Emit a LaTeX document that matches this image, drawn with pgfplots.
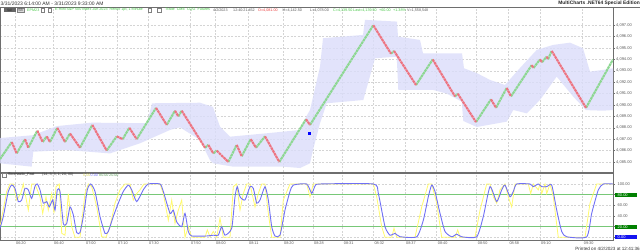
\documentclass[border=0pt]{standalone}
\usepackage{pgfplots}
\pgfplotsset{compat=1.18}
\usepackage{fontspec}
\setmainfont{Liberation Sans}
\newcommand{\fs}[1]{\fontsize{#1bp}{#1bp}\selectfont}
\definecolor{brickgreen}{RGB}{140,215,145}
\definecolor{brickred}{RGB}{238,115,128}
\definecolor{band}{RGB}{219,221,250}
\definecolor{gridc}{RGB}{212,212,212}
\definecolor{stochY}{RGB}{255,250,110}
\definecolor{stochB}{RGB}{112,112,245}
\definecolor{lvl}{RGB}{120,200,120}
\definecolor{hdrgreen}{RGB}{70,200,70}
\definecolor{hdrred}{RGB}{235,60,60}
\definecolor{boxgreen}{RGB}{0,128,0}
\definecolor{boxblue}{RGB}{20,20,240}
\definecolor{axisc}{RGB}{110,110,110}
\definecolor{txtgray}{RGB}{90,90,90}
\newcommand{\lbox}[2]{{\setlength{\fboxsep}{0.7bp}\colorbox{#1}{\makebox[21bp][l]{\textcolor{white}{\hspace{2bp}#2}}}}}
\newcommand{\plbl}[1]{\makebox[22bp][l]{\hspace{2.7bp}#1}}
\tikzset{brick/.style={line width=2.1bp, dash pattern=on 2.6bp off 0.6bp}}

\begin{document}
\begin{tikzpicture}
\useasboundingbox (0bp,0bp) rectangle (640bp,252bp);
\fill[white] (0bp,0bp) rectangle (640bp,252bp);

% ---------------- upper panel ----------------
\begin{axis}[
  at={(0bp,80bp)}, anchor=south west,
  scale only axis, width=613bp, height=165bp,
  xmin=0, xmax=613, ymin=4084.12, ymax=4098.6,
  axis line style={draw=axisc, line width=0.5bp},
  xtick={15,53,85,117,148,190,215,248,283,313,342.7,373.3,405,436.7,476.7,508.3,540,582.7},
  xticklabels={},
  ytick={4085,4086,4087,4088,4089,4090,4091,4092,4093,4094,4095,4096,4097},
  ytick pos=right, yticklabel pos=right, xtick pos=bottom,
  tick align=outside, major tick length=2bp,
  xtick style={draw=none},
  ytick style={draw=axisc, line width=0.4bp},
  grid=major,
  major grid style={draw=gridc, line width=0.5bp, dash pattern=on 2bp off 1.5bp},
  y tick label style={font=\fs{4}, text=txtgray, inner sep=1bp,
     /pgf/number format/fixed, /pgf/number format/fixed zerofill,
     /pgf/number format/precision=2, /pgf/number format/1000 sep={,},
     /pgf/number format/assume math mode=true},
  unbounded coords=jump,
]
\addplot[draw=none, fill=band, fill opacity=0.8] coordinates {
(0,4087.10) (33,4087.35) (57,4088.15) (92,4088.45) (147,4088.40) (152,4090.15)
(200,4090.20) (213,4089.83) (220,4088.10) (230,4087.22) (267,4087.52) (300,4087.81)
(306,4088.95) (310,4089.56) (320,4093.37) (323,4095.86) (363,4096.15) (365,4097.47)
(397,4097.32) (398,4096.00) (420,4095.71) (423,4094.54) (462,4094.54) (464,4093.22)
(477,4092.79) (490,4092.20) (505,4091.76) (520,4093.25) (536.7,4094.83) (553,4095.27)
(570,4095.47) (583,4094.98) (590,4092.93) (603,4093.08) (613,4093.22)
(613,4089.56) (603,4089.50) (586,4089.55) (573.3,4090.73) (556.7,4092.49) (540,4090.44)
(526.7,4089.27) (513.3,4089.56) (506.7,4088.54) (476.7,4088.07) (463.3,4088.60) (461.7,4090.30)
(446.7,4091.0) (433.3,4091.32) (398.3,4091.32) (396.7,4094.24) (375,4094.10) (363.3,4090.44)
(326.7,4090.15) (320,4088.40) (313,4086.05) (310,4084.88) (300,4084.47) (283,4084.59)
(233,4084.59) (213.3,4084.88) (210,4085.17) (200,4086.93) (180,4088.04) (170,4087.81)
(140,4086.64) (110,4085.75) (66.7,4086.05) (33.3,4085.90) (31.7,4084.59) (0,4084.88)
} -- cycle;
% up legs (green bricks)
\addplot[brickgreen, brick] coordinates {
(0,4085.25) (11.7,4086.75) (11.7,nan)
(16.7,4085.75) (25,4087.0) (25,nan)
(28.3,4086.25) (37.3,4087.75) (37.3,nan)
(42.7,4086.75) (46.7,4087.25) (46.7,nan)
(50,4086.75) (57.3,4088.0) (57.3,nan)
(65,4086.75) (70,4087.5) (70,nan)
(80,4086.25) (92.3,4088.25) (92.3,nan)
(106.7,4086.0) (116.7,4087.25) (116.7,nan)
(122.7,4087.0) (129.3,4088.0) (129.3,nan)
(136.7,4087.0) (156,4089.75) (156,nan)
(166.7,4088.25) (175,4089.5) (175,nan)
(178.3,4089.0) (181.7,4089.5) (181.7,nan)
(205,4086.25) (208.3,4086.5) (208.3,nan)
(213.3,4085.75) (216.7,4086.0) (216.7,nan)
(228.3,4085.0) (236.7,4086.5) (236.7,nan)
(241.7,4085.5) (250.7,4087.0) (250.7,nan)
(256,4086.25) (265,4087.25) (265,nan)
(279.3,4085.0) (306,4088.75) (306,nan)
(310,4088.25) (373.3,4097.0) (373.3,nan)
(391,4094.5) (394,4094.75) (394,nan)
(416,4091.75) (432.7,4094.0) (432.7,nan)
(455,4090.75) (457.7,4091.0) (457.7,nan)
(476,4088.5) (491,4090.5) (491,nan)
(496,4089.75) (506.7,4091.5) (506.7,nan)
(511,4090.75) (531.7,4093.5) (531.7,nan)
(533.5,4093.25) (540,4094.0) (540,nan)
(542,4093.75) (546.7,4094.25) (546.7,nan)
(548,4094.0) (551.7,4094.75) (551.7,nan)
(586,4089.75) (613,4094.0)
};
% down legs (red bricks)
\addplot[brickred, brick] coordinates {
(11.7,4086.75) (16.7,4085.75) (16.7,nan)
(25,4087.0) (28.3,4086.25) (28.3,nan)
(37.3,4087.75) (42.7,4086.75) (42.7,nan)
(46.7,4087.25) (50,4086.75) (50,nan)
(57.3,4088.0) (65,4086.75) (65,nan)
(70,4087.5) (80,4086.25) (80,nan)
(92.3,4088.25) (106.7,4086.0) (106.7,nan)
(116.7,4087.25) (122.7,4087.0) (122.7,nan)
(129.3,4088.0) (136.7,4087.0) (136.7,nan)
(156,4089.75) (166.7,4088.25) (166.7,nan)
(175,4089.5) (178.3,4089.0) (178.3,nan)
(181.7,4089.5) (205,4086.25) (205,nan)
(208.3,4086.5) (213.3,4085.75) (213.3,nan)
(216.7,4086.0) (228.3,4085.0) (228.3,nan)
(236.7,4086.5) (241.7,4085.5) (241.7,nan)
(250.7,4087.0) (256,4086.25) (256,nan)
(265,4087.25) (279.3,4085.0) (279.3,nan)
(306,4088.75) (310,4088.25) (310,nan)
(373.3,4097.0) (391,4094.5) (391,nan)
(394,4094.75) (416,4091.75) (416,nan)
(432.7,4094.0) (455,4090.75) (455,nan)
(457.7,4091.0) (476,4088.5) (476,nan)
(491,4090.5) (496,4089.75) (496,nan)
(506.7,4091.5) (511,4090.75) (511,nan)
(531.7,4093.5) (533.5,4093.25) (533.5,nan)
(540,4094.0) (542,4093.75) (542,nan)
(546.7,4094.25) (548,4094.0) (548,nan)
(551.7,4094.75) (586,4089.75)
};
\addplot[only marks, mark=square*, mark size=1bp, color=blue] coordinates {(309.3,4087.5)};
\end{axis}

% ---------------- lower panel ----------------
\begin{axis}[
  at={(0bp,12bp)}, anchor=south west,
  scale only axis, width=613bp, height=67bp,
  xmin=0, xmax=613, ymin=-5, ymax=120.6,
  axis line style={draw=axisc, line width=0.5bp},
  xtick={15,53,85,117,148,190,215,248,283,313,342.7,373.3,405,436.7,476.7,508.3,540,582.7},
  xticklabels={06:20,06:40,07:00,07:10,07:30,07:50,08:00,08:11,08:20,08:28,08:31,08:32,08:37,08:40,08:50,08:58,09:10,09:30},
  x tick label style={font=\fs{3.8}, text=txtgray, anchor=north west, inner sep=0.5bp, xshift=0.5bp},
  ytick={0,20,40,60,80,100},
  yticklabels={{\lbox{boxblue}{0.00}},{\lbox{boxgreen}{20.00}},{\plbl{40.00}},{\plbl{60.00}},{\lbox{boxgreen}{80.00}},{\plbl{100.00}}},
  y tick label style={font=\fs{4}, text=txtgray, inner sep=0.3bp},
  ytick pos=right, yticklabel pos=right, xtick pos=bottom,
  tick align=outside, major tick length=1.5bp,
  xtick style={draw=none},
  ytick style={draw=axisc, line width=0.4bp},
  grid=major,
  major grid style={draw=gridc, line width=0.5bp, dash pattern=on 2bp off 1.5bp},
]
\addplot[lvl, line width=0.8bp] coordinates {(0,80) (613,80)};
\addplot[lvl, line width=0.8bp] coordinates {(0,20) (613,20)};
% fast %K (yellow)
\addplot[stochY, line width=0.8bp] coordinates {
(0,20) (6.7,86) (10,100) (13.3,100) (16.7,70) (20.7,82) (23.3,100) (28.3,51) (31.7,100)
(35,100) (40,76) (42.7,45) (46,76) (48.3,51) (51.7,82) (54,45) (56,95) (59.3,100)
(61.7,7.5) (65,4) (68.3,82) (71.7,20) (75,0) (80,0) (85,82) (88.3,100) (91.7,95)
(96.7,57) (101.7,1) (106,0) (110,20) (115,64) (120,89) (125,100) (130,100) (133.3,70)
(136.7,82) (140,89) (144,100) (160,100) (163.3,82) (168.3,32) (171.7,70) (175,26)
(178.3,51) (181.7,70) (185,0) (188.3,20) (191.7,0) (205,0) (207.3,14) (210,1) (213.3,11)
(216.7,0) (220,36) (223.3,0) (230,0) (233.3,95) (236.7,100) (240,51) (243.3,82)
(246.7,100) (250,100) (255,57) (258.3,82) (261.7,100) (265,100) (268.3,45) (271.7,0)
(280,0) (283.3,70) (290,100) (306.7,100) (310,76) (313.3,100) (320,100)
(373.3,100) (376.7,76) (381.7,20) (385,0) (391.7,0) (394,17) (396.7,0) (415,0)
(421.7,57) (428.3,100) (431.7,100) (436.7,64) (441.7,0) (455,0) (457.7,14) (460,0)
(475,0) (480,51) (486.7,100) (490,100) (493.3,76) (496.7,64) (500,89) (505,100)
(508.3,76) (511.7,57) (515,100) (528.3,100) (530.7,82) (533.3,100) (538.3,89) (540,100)
(541.7,82) (545,100) (546.7,82) (550,100) (553.3,76) (558.3,0) (585,0) (590,64)
(596.7,100) (613,100)
};
% %D (blue)
\addplot[stochB, line width=0.9bp, smooth, tension=0.35] coordinates {
(0,17) (3.3,39) (8.3,86) (11.7,98) (15,92) (18.3,67) (21.7,70) (25,92) (28.3,89)
(31.7,73) (35,96) (37.3,100) (40,89) (43.3,64) (46.7,67) (49.3,57) (52.7,70) (55,51)
(57.3,89) (60,86) (63.3,26) (66.7,26) (70,57) (73.3,42) (76.7,9) (80,9) (83.3,39)
(87.3,89) (90.7,100) (95,86) (100,39) (105,7.5) (108.3,11) (113.3,39) (118.3,64)
(123.3,86) (128.3,98) (131.7,89) (136.7,67) (143.3,89) (148.3,100) (160,100) (163.3,86)
(170,45) (173.3,51) (176.7,29) (181.7,20) (185,45) (188.3,11) (191.7,2.5) (206.7,2.5)
(213.3,4) (218.3,4) (221.7,20) (225,4) (231.7,17) (235,76) (237.3,95) (240,76) (245,70)
(250,95) (253.3,92) (256.7,64) (260,70) (265,95) (268.3,70) (271.7,20) (275,2.5) (280,4)
(285,51) (290,86) (293.3,98) (306.7,100) (311.7,82.5) (315,96) (320,100) (373.3,100)
(378.3,82.5) (385,20) (390,4) (395,7.5) (400,1.2) (416.7,1) (423.3,32) (428.3,76)
(431.7,98) (435,86) (440,45) (445,11) (451.7,1) (456.7,6) (461.7,1) (476.7,1) (483.3,39)
(490,95) (496.7,67) (501.7,89) (505,98) (510,76) (513.3,86) (516.7,100) (530,100)
(533.3,95) (538.3,100) (541.7,95) (546.7,95) (551.7,98) (556.7,51) (561.7,11) (566.7,1)
(586.7,1) (591.7,45) (598.3,89) (603.3,100) (613,100)
};
\end{axis}

% ---------------- texts ----------------
\draw[axisc, line width=0.5bp] (0bp,245bp) -- (640bp,245bp);
\node[anchor=west, inner sep=0, font=\fs{5}, text=black!80] at (0.5bp,248.7bp) {3/31/2023 6:14:00 AM - 3/31/2023 9:33:00 AM};
\node[anchor=east, inner sep=0, font=\fs{4.9}\bfseries, text=black!85] at (640bp,248.7bp) {MultiCharts .NET64 Special Edition};

% header row
\fill[black!60] (4bp,240bp) rectangle (15.5bp,244bp);
\node[anchor=center, inner sep=0, font=\fs{3.3}, text=black!85] at (9.7bp,242bp) {SA!};
\draw[black!50, fill=black!15, line width=0.3bp] (17bp,240bp) rectangle (24.5bp,244bp);
\node[anchor=center, inner sep=0, font=\fs{3.3}, text=black!80] at (20.7bp,242bp) {SB};
\node[anchor=west, inner sep=0, font=\fs{3.7}, text=hdrgreen] at (27bp,242bp) {EPM23};
\draw[black!50, line width=0.3bp] (41bp,240.2bp) rectangle (44.5bp,243.8bp);
\draw[black!50, line width=0.3bp] (48bp,240.2bp) rectangle (51.5bp,243.8bp);
\node[anchor=west, inner sep=0, font=\fs{3.7}, text=hdrgreen] at (55bp,242bp) {E-mini S\&P 500 Index Jun 2023\ \ Renko 1pt, 1 Minute};
\draw[black!50, line width=0.3bp] (148bp,240.2bp) rectangle (151.5bp,243.8bp);
\draw[black!50, line width=0.3bp] (157bp,240.2bp) rectangle (161bp,243.8bp);
\node[anchor=west, inner sep=0, font=\fs{3.7}, text=hdrgreen] at (165bp,242bp) {Trade\ \ CME\ \ CQG\ \ Futures};
\node[anchor=west, inner sep=0, font=\fs{3.7}, text=txtgray] at (213bp,242bp) {4/2/2023};
\node[anchor=west, inner sep=0, font=\fs{3.7}, text=txtgray] at (233bp,242bp) {12:40:21.452};
\node[anchor=west, inner sep=0, font=\fs{3.7}, text=hdrred] at (258bp,242bp) {O=4,081.00};
\node[anchor=west, inner sep=0, font=\fs{3.7}, text=txtgray] at (282.5bp,242bp) {H=4,142.50};
\node[anchor=west, inner sep=0, font=\fs{3.7}, text=txtgray] at (310bp,242bp) {L=4,078.00};
\node[anchor=west, inner sep=0, font=\fs{3.7}, text=hdrgreen] at (333bp,242bp) {C=4,139.50};
\node[anchor=west, inner sep=0, font=\fs{3.7}, text=hdrgreen] at (353bp,242bp) {Last=4,139.50};
\node[anchor=west, inner sep=0, font=\fs{3.7}, text=hdrgreen] at (379bp,242bp) {+60.00};
\node[anchor=west, inner sep=0, font=\fs{3.7}, text=hdrgreen] at (393bp,242bp) {+1.38\%};
\node[anchor=west, inner sep=0, font=\fs{3.7}, text=txtgray] at (407bp,242bp) {V=1,558,548};

% lower panel header
\draw[black!50, line width=0.3bp] (2bp,75.3bp) rectangle (6bp,78.5bp);
\node[anchor=west, inner sep=0, font=\fs{3.7}, text=black!85] at (8bp,77bp) {Stochastic\_Fast};
\node[anchor=west, inner sep=0, font=\fs{3.7}, text=black!75] at (42bp,77bp) {(14, 3, 3, 1, 20, 80)};
\node[anchor=west, inner sep=0, font=\fs{3.7}, text=stochY!85!black] at (83bp,77bp) {0.00};
\node[anchor=west, inner sep=0, font=\fs{3.7}, text=stochB] at (90.5bp,77bp) {0.00};
\node[anchor=west, inner sep=0, font=\fs{3.7}, text=lvl!80!black] at (99bp,77bp) {80.00};
\node[anchor=west, inner sep=0, font=\fs{3.7}, text=lvl!80!black] at (109bp,77bp) {20.00};

\node[anchor=east, inner sep=0, font=\fs{4.6}, text=black!80] at (640bp,3.6bp) {Printed on 4/2/2023 at 12:41:36};
\end{tikzpicture}
\end{document}
